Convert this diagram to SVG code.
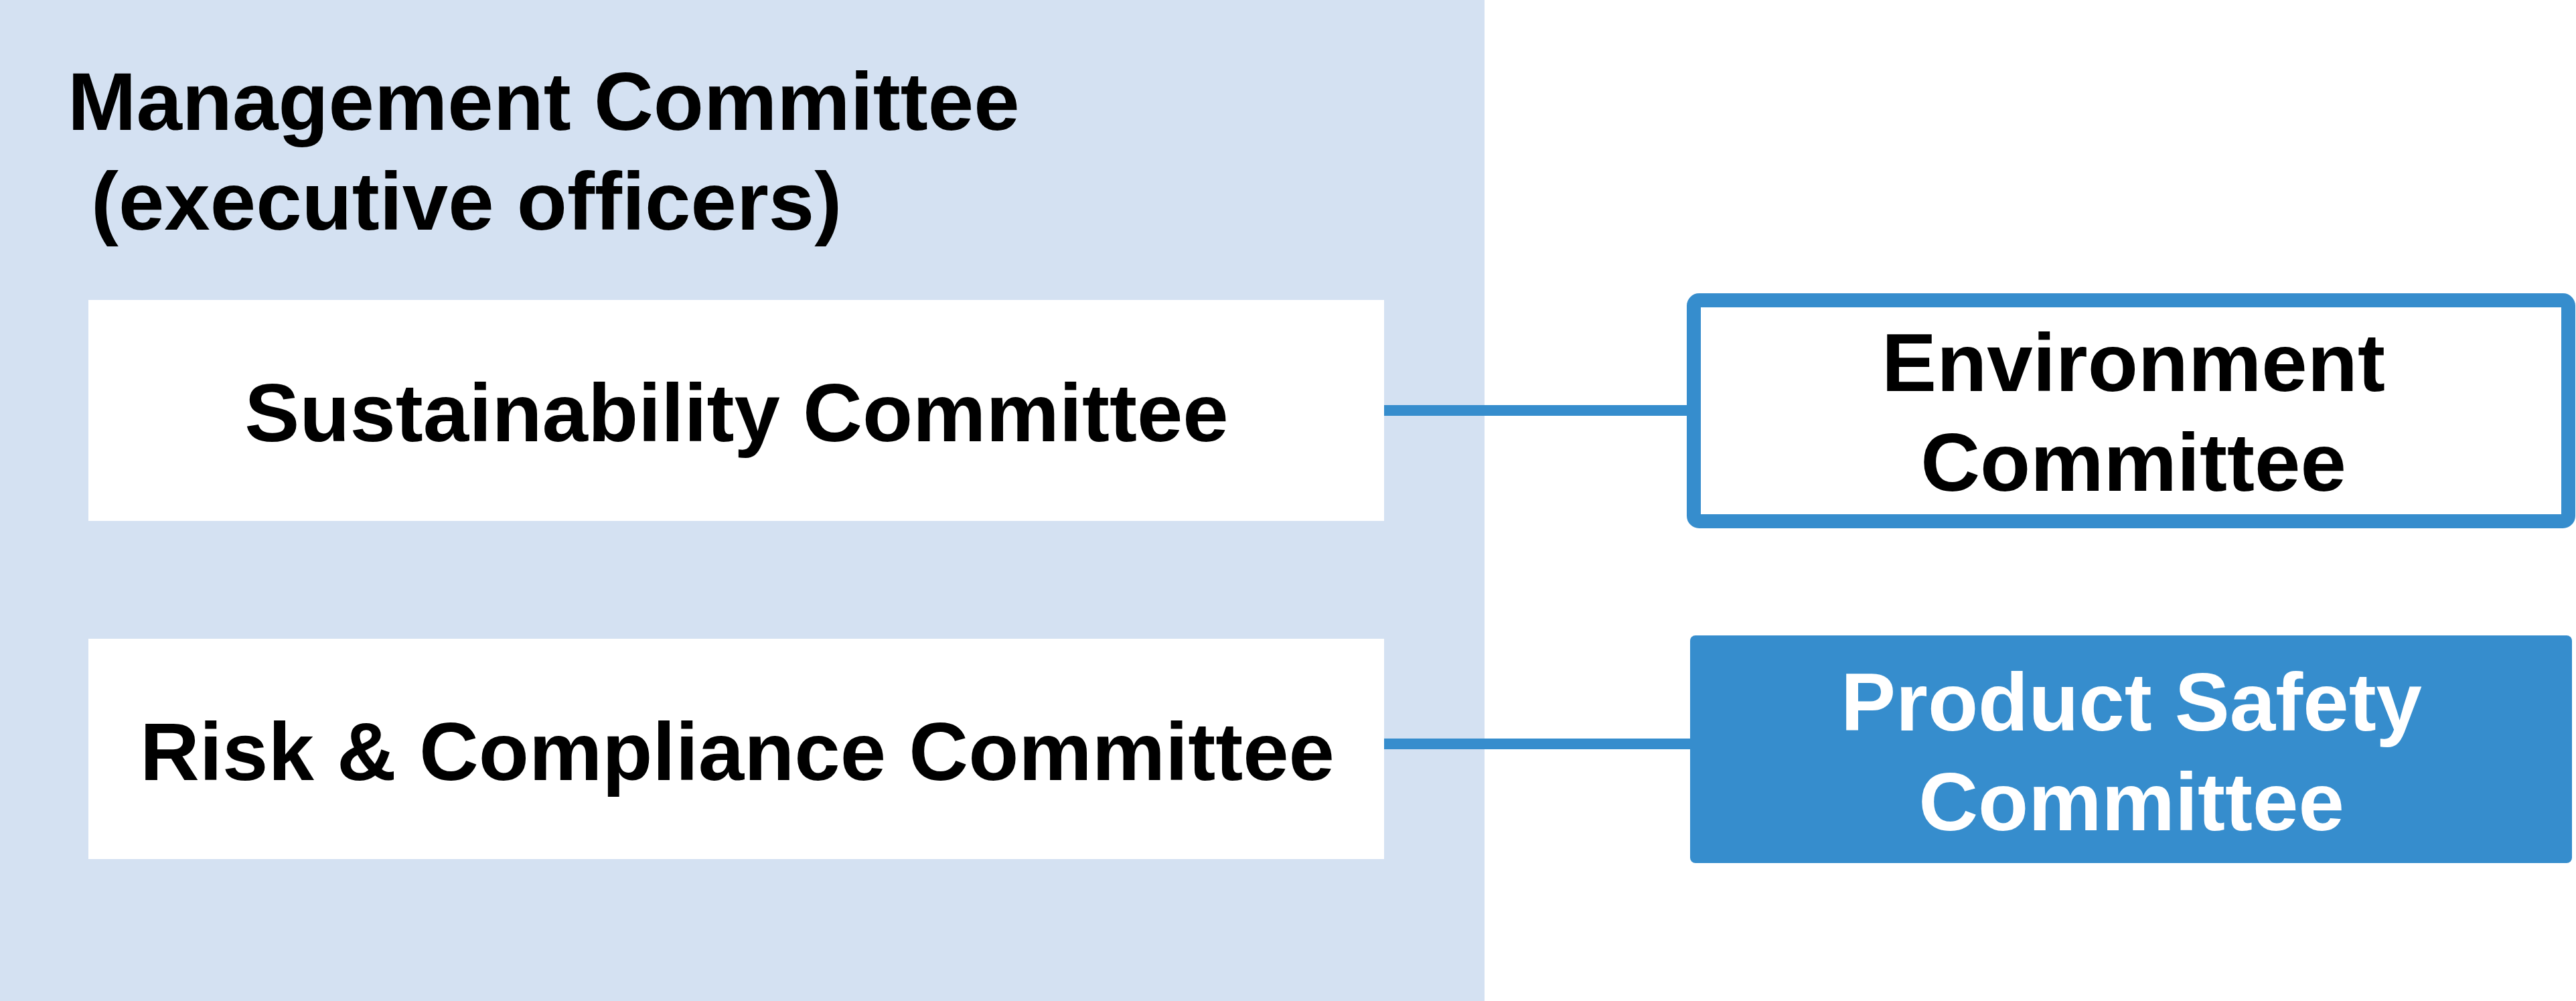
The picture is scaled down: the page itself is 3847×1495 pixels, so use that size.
<svg xmlns="http://www.w3.org/2000/svg" width="3847" height="1495" viewBox="0 0 3847 1495">
<style>
text{font-family:"Liberation Sans",Arial,sans-serif;font-weight:bold;font-size:123px;fill:#000}
.c{text-anchor:middle}
.w{fill:#fff}
.inner{fill:#fff}
.conn{stroke:#368DCD;stroke-width:16;fill:none}
</style>
<rect width="3847" height="1495" fill="#fff"/>
<g id="management-committee">
<rect x="0" y="0" width="2217" height="1495" fill="#D4E1F2"/>
<text x="101" y="194">Management Committee</text>
<text x="136" y="343">(executive officers)</text>
</g>
<g id="connectors">
<line class="conn" x1="2067" y1="613" x2="2525" y2="613"/>
<line class="conn" x1="2067" y1="1111" x2="2530" y2="1111"/>
</g>
<g id="sustainability-committee">
<rect class="inner" x="132" y="448" width="1935" height="330"/>
<text class="c" x="1100" y="659">Sustainability Committee</text>
</g>
<g id="risk-compliance-committee">
<rect class="inner" x="132" y="954" width="1935" height="329"/>
<text class="c" x="1101" y="1165">Risk &amp; Compliance Committee</text>
</g>
<g id="environment-committee">
<rect x="2529.5" y="448.5" width="1306" height="330" rx="8" fill="#fff" stroke="#368DCD" stroke-width="21"/>
<text class="c" x="3186" y="584">Environment</text>
<text class="c" x="3186" y="733">Committee</text>
</g>
<g id="product-safety-committee">
<rect x="2524" y="949" width="1317" height="340" rx="8" fill="#368DCD"/>
<text class="c w" x="3183" y="1091">Product Safety</text>
<text class="c w" x="3183" y="1240">Committee</text>
</g>
</svg>
